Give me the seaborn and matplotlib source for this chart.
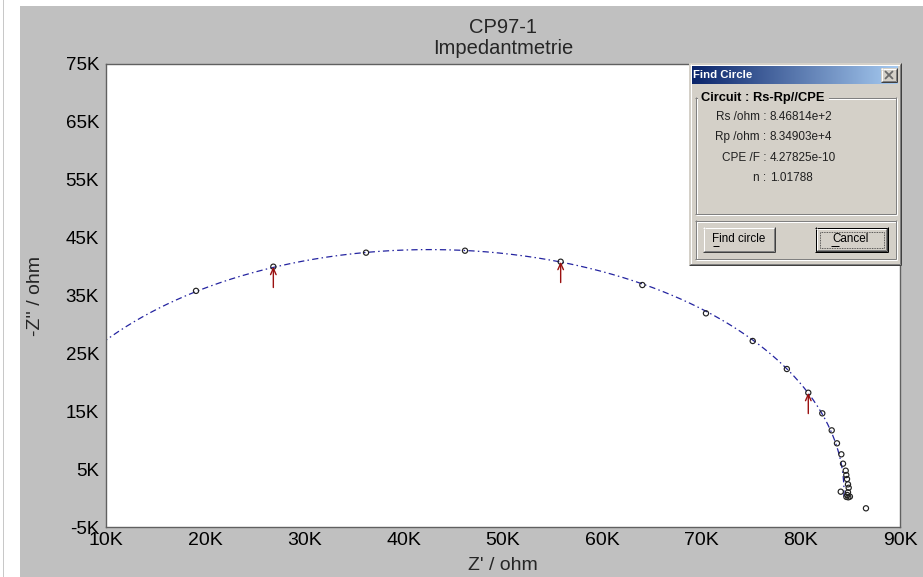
import numpy as np
import pandas as pd
import matplotlib
matplotlib.use("Agg")
import matplotlib.pyplot as plt
from matplotlib.patches import Rectangle
from matplotlib.ticker import MultipleLocator, FuncFormatter
import seaborn as sns

# ---------------- data ----------------
title_lines = ["CP97-1", "Impedantmetrie"]
x_label = "Z' / ohm"
y_label = "-Z'' / ohm"

# measured points, in kOhm
z_real_k = [19.07, 26.86, 36.2, 46.17, 55.81, 64.04, 70.45, 75.16, 78.6, 80.76,
            82.17, 83.12, 83.65, 84.09, 84.26, 84.53, 84.59, 84.66, 84.76, 84.83,
            84.03, 84.76, 84.69, 84.79, 84.95, 84.6, 86.57]
z_imag_k = [35.8, 39.98, 42.4, 42.74, 40.84, 36.81, 31.92, 27.14, 22.3, 18.2,
            14.64, 11.7, 9.46, 7.56, 5.94, 4.73, 3.98, 3.29, 2.37, 1.78,
            1.10, 0.99, 0.53, 0.13, 0.25, 0.2, -1.77]

# points marked with arrows (kOhm)
arrow_x_k = [26.86, 55.81, 80.76]
arrow_y_k = [39.98, 40.84, 18.2]

# fitted circuit Rs-Rp//CPE
circuit_name = "Circuit : Rs-Rp//CPE"
fit_names = ["Rs /ohm", "Rp /ohm", "CPE /F", "n"]
fit_texts = ["8.46814e+2", "8.34903e+4", "4.27825e-10", "1.01788"]
Rs = 846.814
Rp = 83490.3
n_cpe = 1.01788

x_ticks_k = [10, 20, 30, 40, 50, 60, 70, 80, 90]
y_ticks_k = [-5, 5, 15, 25, 35, 45, 55, 65, 75]

# ---------------- derived tables ----------------
pts = pd.DataFrame({"zr": np.array(z_real_k) * 1000, "zi": np.array(z_imag_k) * 1000})

# circular arc of the Rs-Rp//CPE model
xc = Rs + Rp / 2
yc = -(Rp / 2) / np.tan(n_cpe * np.pi / 2)
rad = np.hypot(Rp / 2, yc)
a_end = np.arctan2(-yc, Rp / 2)
theta = np.linspace(np.pi - a_end, a_end, 600)
fit = pd.DataFrame({"zr": xc + rad * np.cos(theta), "zi": yc + rad * np.sin(theta)})

# ---------------- figure ----------------
sns.set_style("white")
plt.rcParams["font.family"] = ["Liberation Sans", "DejaVu Sans"]

W, H = 923, 577
fig = plt.figure(figsize=(W / 100, H / 100), dpi=100, facecolor="white")

# grey window panel + thin left separator
fig.add_artist(Rectangle((20 / W, 0), 1 - 20 / W, 1 - 6 / H, transform=fig.transFigure,
                         facecolor="#c0c0c0", edgecolor="none", zorder=-10))
fig.add_artist(Rectangle((3 / W, 0), 1.2 / W, 1, transform=fig.transFigure,
                         facecolor="#c8c8c8", edgecolor="none", zorder=-10))

L, R, T, B = 106, 900, 64, 527
ax = fig.add_axes([L / W, 1 - B / H, (R - L) / W, (B - T) / H])
ax.set_facecolor("white")

sns.lineplot(data=fit, x="zr", y="zi", sort=False, estimator=None, ax=ax,
             color="#2424a0", lw=0.9, linestyle=(0, (5, 2.6, 1.2, 2.6)))
sns.scatterplot(data=pts, x="zr", y="zi", ax=ax, marker="o", s=14, zorder=3)
coll = ax.collections[-1]
coll.set_facecolor("none")
coll.set_edgecolor("#222222")
coll.set_linewidth(0.85)

arrow_len_k = 3.6
for xa, ya in zip(arrow_x_k, arrow_y_k):
    ax.annotate("", xy=(xa * 1000, ya * 1000), xytext=(xa * 1000, (ya - arrow_len_k) * 1000),
                arrowprops=dict(arrowstyle="->,head_length=0.45,head_width=0.2",
                                color="#9a1010", lw=1.0, shrinkA=0, shrinkB=0), zorder=4)

ax.set_xlim(x_ticks_k[0] * 1000, x_ticks_k[-1] * 1000)
ax.set_ylim(y_ticks_k[0] * 1000, y_ticks_k[-1] * 1000)
ax.set_xticks([v * 1000 for v in x_ticks_k])
ax.set_yticks([v * 1000 for v in y_ticks_k])
ax.xaxis.set_minor_locator(MultipleLocator(5000))
ax.yaxis.set_minor_locator(MultipleLocator(5000))
fmt = FuncFormatter(lambda v, p: f"{int(round(v / 1000))}K")
ax.xaxis.set_major_formatter(fmt)
ax.yaxis.set_major_formatter(fmt)
ax.tick_params(axis="both", which="major", direction="out", length=3.5, width=0.8,
               color="#606060", labelcolor="black")
ax.tick_params(axis="both", which="minor", direction="out", length=2, width=0.8, color="#606060")
ax.tick_params(axis="x", which="major", pad=0, labelsize=14)
ax.tick_params(axis="y", which="major", pad=1.5, labelsize=13.5)
for s in ax.spines.values():
    s.set_color("#606060")
    s.set_linewidth(1.0)

ax.set_xlabel(x_label, fontsize=14)
ax.set_ylabel(y_label, fontsize=14)
ax.xaxis.set_label_coords(0.5, -(557 - B) / (B - T))
ax.yaxis.set_label_coords(-(106 - 44) / (R - L), 0.5)
ax.set_title("\n".join(title_lines), fontsize=14.5, pad=7, linespacing=1.15)

# ---------------- "Find Circle" dialog overlay ----------------
ov = fig.add_axes([0, 0, 1, 1], zorder=10)
ov.set_facecolor("none")
ov.axis("off")

FACE = "#d4d0c8"
PX = 0.72


def hl(x0, x1, y, c):
    ov.plot([x0, x1 + 1], [y + 0.5, y + 0.5], color=c, lw=PX, solid_capstyle="butt")


def vl(x, y0, y1, c):
    ov.plot([x + 0.5, x + 0.5], [y0, y1 + 1], color=c, lw=PX, solid_capstyle="butt")


def frame(x0, y0, x1, y1, tl, br):
    hl(x0, x1, y0, tl)
    vl(x0, y0, y1, tl)
    hl(x0, x1, y1, br)
    vl(x1, y0, y1, br)


def raised(x0, y0, x1, y1, outer_tl="white", face=FACE):
    ov.add_patch(Rectangle((x0, y0), x1 - x0 + 1, y1 - y0 + 1, facecolor=face, edgecolor="none"))
    frame(x0, y0, x1, y1, outer_tl, "#404040")
    frame(x0 + 1, y0 + 1, x1 - 1, y1 - 1, "white" if outer_tl != "white" else FACE, "#808080")


def etched(x0, y0, x1, y1):
    frame(x0 + 1, y0 + 1, x1, y1, "white", "white")
    frame(x0, y0, x1 - 1, y1 - 1, "#808080", "#808080")


# window
raised(689, 63, 900, 264, outer_tl=FACE)
# title bar gradient
grad = np.linspace(0, 1, 256)
c0 = np.array([0x0a, 0x24, 0x6a]) / 255
c1 = np.array([0xa6, 0xca, 0xf0]) / 255
img = (c0[None, :] * (1 - grad[:, None]) + c1[None, :] * grad[:, None])[None, :, :]
ov.imshow(img, extent=(692, 898, 84, 66), aspect="auto", interpolation="bilinear", zorder=1)
ov.text(693, 75.5, "Find Circle", color="white", fontsize=8.2, fontweight="bold",
        ha="left", va="center", zorder=3)
# close button
raised(881, 68, 896, 81)
ov.plot([885.5, 892.5], [71.5, 78.5], color="#6a6a6a", lw=1.3, zorder=4)
ov.plot([892.5, 885.5], [71.5, 78.5], color="#6a6a6a", lw=1.3, zorder=4)

# group box with fitted parameters
etched(695, 97, 896, 214)
ov.add_patch(Rectangle((698, 90), 131, 14, facecolor=FACE, edgecolor="none", zorder=2))
ov.text(701, 97.5, circuit_name, fontsize=9.3, fontweight="bold", color="black",
        ha="left", va="center", zorder=3)
row_y = [117, 137, 158, 178]
for name, val, yy in zip(fit_names, fit_texts, row_y):
    ov.text(766, yy, name + " :", fontsize=8.5, color="#202020", ha="right", va="center", zorder=3)
    ov.text(770, yy, val, fontsize=8.5, color="#202020", ha="left", va="center", zorder=3)

# button area
etched(695, 220, 896, 259)
raised(703, 227, 774, 251)
ov.text(738.5, 239.5, "Find circle", fontsize=8.4, color="black", ha="center", va="center", zorder=3)
hl(713, 718, 245, "black")
# default "Cancel" button with black border and focus rectangle
ov.add_patch(Rectangle((815, 227), 73, 25, facecolor=FACE, edgecolor="none"))
frame(815, 227, 887, 251, "black", "black")
frame(816, 228, 886, 250, "white", "#404040")
frame(817, 229, 885, 249, FACE, "#808080")
ov.add_patch(Rectangle((819.5, 231.5), 64, 16, facecolor="none", edgecolor="#303030",
                       lw=0.6, linestyle=(0, (1, 1)), zorder=3))
ov.text(851, 239.5, "Cancel", fontsize=8.4, color="black", ha="center", va="center", zorder=3)
hl(831, 838, 245, "black")

ov.set_xlim(0, W)
ov.set_ylim(H, 0)

fig.savefig("out.png", dpi=100, facecolor=fig.get_facecolor())
